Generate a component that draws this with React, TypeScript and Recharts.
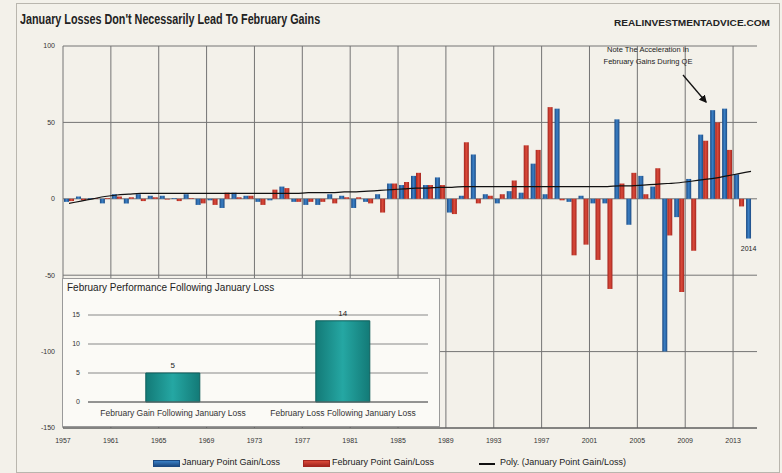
import {
  ComposedChart,
  BarChart,
  Bar,
  Line,
  XAxis,
  YAxis,
  CartesianGrid,
  ReferenceLine,
  LabelList,
} from 'recharts';

// S&P point change in January / February, one entry per year
const years = [
  1957, 1958, 1959, 1960, 1961, 1962, 1963, 1964, 1965, 1966,
  1967, 1968, 1969, 1970, 1971, 1972, 1973, 1974, 1975, 1976,
  1977, 1978, 1979, 1980, 1981, 1982, 1983, 1984, 1985, 1986,
  1987, 1988, 1989, 1990, 1991, 1992, 1993, 1994, 1995, 1996,
  1997, 1998, 1999, 2000, 2001, 2002, 2003, 2004, 2005, 2006,
  2007, 2008, 2009, 2010, 2011, 2012, 2013, 2014,
];

const janPoints = [
  -2, 1.5, 0.5, -3, 3, -3, 3, 2, 2, 0.5,
  3, -4, -1, -6, 4, 2, -2, -1, 8, -2,
  -4, -4, 3, 2, -6, -2, 3, 10, 9, 15,
  9, 14, -9, 2, 29, 3, -3, 5, 4, 23,
  3, 59, -2, 2, -3, -3, 52, -17, 15, 8,
  -100, -12, 13, 42, 58, 59, 16, -26,
];

const febPoints = [
  -1.5, -1, 0.5, 0.5, 1.5, 1, -1.5, 1, -0.5, -1.5,
  0.5, -3, -4, 4, 1, 2, -4, 6, 7, -2,
  -2, -2, -3, 1, 1, -3, -9, 10, 11, 17,
  9, 9, -10, 37, -3, 2, 3, 12, 35, 32,
  60, -1, -37, -30, -40, -59, 10, 17, 3, 20,
  -24, -61, -34, 38, 50, 32, -5, null,
];

// polynomial trend of the January series
const janPoly = [
  -3, -1.5, 0, 1.5, 2.5, 3, 3.5, 3.5, 3.5, 3.5,
  3.5, 3.5, 3.5, 3.5, 3.5, 3.5, 3.5, 3.5, 3.5, 3.5,
  4, 4, 4, 4.5, 4.5, 5, 5.5, 6, 6.5, 7,
  7, 7.5, 7.5, 8, 8, 8, 8, 8, 8, 8,
  8, 8, 8, 8, 8, 8, 8.5, 8.5, 9, 9.5,
  10, 10.5, 11.5, 12.5, 13.5, 15, 16.5, 18,
];

const gridYears = [1957, 1961, 1965, 1969, 1973, 1977, 1981, 1985, 1989, 1993, 1997, 2001, 2005, 2009, 2013];
const yTicks = [-150, -100, -50, 0, 50, 100];

const insetCategories = ['February Gain Following January Loss', 'February Loss Following January Loss'];
const insetCounts = [5, 14];
const insetTicks = [0, 5, 10, 15];

const BG = '#f3f1ea';
const GRID = '#747474';
const FONT = "'Liberation Sans', Arial, sans-serif";

const XTick = (props: any) => {
  const { x, y, payload } = props;
  return (
    <text x={x - 6} y={y + 7} textAnchor="middle" fontSize={7} fill="#333" fontFamily={FONT}>
      {payload.value}
    </text>
  );
};

const lastYearLabel = (props: any) => {
  const { x, y, width, height, index } = props;
  if (index !== years.length - 1) return null;
  const bottom = Math.max(y, y + height);
  return (
    <text x={x + width / 2} y={bottom + 12} textAnchor="middle" fontSize={7} fill="#222" fontFamily={FONT}>
      {years[index]}
    </text>
  );
};

export default function App() {
  const mainData = years.map((year, i) => ({
    year,
    jan: janPoints[i],
    feb: febPoints[i],
    poly: janPoly[i],
  }));
  const insetData = insetCategories.map((name, i) => ({ name, count: insetCounts[i] }));

  return (
    <div
      style={{
        position: 'absolute',
        left: 0,
        top: 0,
        width: 782,
        height: 473,
        background: BG,
        fontFamily: FONT,
        overflow: 'hidden',
      }}
    >
      {/* outer frame */}
      <div
        style={{
          position: 'absolute',
          left: 16,
          top: 3,
          width: 762,
          height: 468,
          border: '1px solid #b9b6ae',
        }}
      />

      <div
        style={{
          position: 'absolute',
          left: 20,
          top: 11,
          fontWeight: 'bold',
          fontSize: 14,
          color: '#222',
          whiteSpace: 'nowrap',
          transform: 'scaleX(0.77)',
          transformOrigin: 'left top',
        }}
      >
        January Losses Don't Necessarily Lead To February Gains
      </div>
      <div
        style={{
          position: 'absolute',
          left: 614,
          top: 17,
          fontWeight: 'bold',
          fontSize: 9.5,
          color: '#222',
          whiteSpace: 'nowrap',
          transform: 'scaleX(1.06)',
          transformOrigin: 'left top',
        }}
      >
        REALINVESTMENTADVICE.COM
      </div>

      <ComposedChart
        width={782}
        height={473}
        data={mainData}
        margin={{ top: 46, right: 25, bottom: 25, left: 23 }}
        barGap={0}
        style={{ position: 'absolute', left: 0, top: 0 }}
      >
        <defs>
          <linearGradient id="janFill" x1="0" y1="0" x2="1" y2="0">
            <stop offset="0%" stopColor="#1c4a82" />
            <stop offset="50%" stopColor="#3a80c6" />
            <stop offset="100%" stopColor="#1c4a82" />
          </linearGradient>
          <linearGradient id="febFill" x1="0" y1="0" x2="1" y2="0">
            <stop offset="0%" stopColor="#a3261f" />
            <stop offset="50%" stopColor="#dc4a3a" />
            <stop offset="100%" stopColor="#a3261f" />
          </linearGradient>
        </defs>
        <CartesianGrid vertical={false} stroke={GRID} />
        {gridYears.map((y) => (
          <ReferenceLine key={y} x={y} position="start" stroke={GRID} />
        ))}
        <XAxis
          dataKey="year"
          interval={3}
          tickLine={false}
          axisLine={{ stroke: '#555' }}
          height={20}
          tick={<XTick />}
        />
        <YAxis
          width={40}
          domain={[-150, 100]}
          ticks={yTicks}
          tickLine={false}
          axisLine={false}
          tick={{ fontSize: 7, fill: '#333', fontFamily: FONT }}
        />
        <Bar dataKey="jan" fill="url(#janFill)" barSize={5} isAnimationActive={false}>
          <LabelList dataKey="jan" content={lastYearLabel} />
        </Bar>
        <Bar dataKey="feb" fill="url(#febFill)" barSize={5} isAnimationActive={false} />
        <Line
          dataKey="poly"
          type="monotone"
          stroke="#111"
          strokeWidth={1.2}
          dot={false}
          isAnimationActive={false}
        />
      </ComposedChart>

      {/* annotation */}
      <div
        style={{
          position: 'absolute',
          left: 578,
          top: 44,
          width: 140,
          textAlign: 'center',
          fontSize: 7.5,
          lineHeight: '12px',
          color: '#222',
        }}
      >
        Note The Acceleration In
        <br />
        February Gains During QE
      </div>
      <svg
        width={782}
        height={473}
        style={{ position: 'absolute', left: 0, top: 0, pointerEvents: 'none' }}
      >
        <defs>
          <marker id="arrowHead" markerWidth="6" markerHeight="6" refX="5" refY="3" orient="auto">
            <path d="M0,0 L6,3 L0,6 Z" fill="#111" />
          </marker>
        </defs>
        <line x1={683} y1={75} x2={706} y2={102} stroke="#111" strokeWidth={1.3} markerEnd="url(#arrowHead)" />
      </svg>

      {/* inset chart */}
      <div
        style={{
          position: 'absolute',
          left: 62,
          top: 278,
          width: 376,
          height: 147,
          border: '1px solid #9a9a9a',
          background: '#fbfaf6',
        }}
      >
        <div style={{ position: 'absolute', left: 4, top: 3, fontSize: 10, color: '#222', whiteSpace: 'nowrap' }}>
          February Performance Following January Loss
        </div>
        <BarChart
          width={376}
          height={147}
          data={insetData}
          margin={{ top: 36, right: 11, bottom: 6, left: 5 }}
          barCategoryGap="34%"
          style={{ position: 'absolute', left: 0, top: 0 }}
        >
          <defs>
            <linearGradient id="tealFill" x1="0" y1="0" x2="1" y2="0">
              <stop offset="0%" stopColor="#137a77" />
              <stop offset="50%" stopColor="#25a7a3" />
              <stop offset="100%" stopColor="#137a77" />
            </linearGradient>
          </defs>
          <CartesianGrid vertical={false} stroke="#888" />
          <XAxis
            dataKey="name"
            tickLine={false}
            axisLine={{ stroke: '#666' }}
            height={18}
            tick={{ fontSize: 8.5, fill: '#333', fontFamily: FONT }}
          />
          <YAxis
            width={20}
            domain={[0, 15]}
            ticks={insetTicks}
            tickLine={false}
            axisLine={false}
            tick={{ fontSize: 7, fill: '#333', fontFamily: FONT }}
          />
          <Bar dataKey="count" fill="url(#tealFill)" stroke="#0e5f5c" isAnimationActive={false}>
            <LabelList dataKey="count" position="top" offset={5} fontSize={8} fill="#222" />
          </Bar>
        </BarChart>
      </div>

      {/* legend */}
      <div style={{ position: 'absolute', left: 0, top: 457, width: 782, height: 12, fontSize: 9, color: '#222' }}>
        <div
          style={{
            position: 'absolute',
            left: 153,
            top: 3,
            width: 25,
            height: 5,
            border: '1px solid #1c4a82',
            background: 'linear-gradient(#3a80c6, #1c4a82)',
          }}
        />
        <div style={{ position: 'absolute', left: 182, top: 0, whiteSpace: 'nowrap' }}>January Point Gain/Loss</div>
        <div
          style={{
            position: 'absolute',
            left: 303,
            top: 3,
            width: 25,
            height: 5,
            border: '1px solid #a3261f',
            background: 'linear-gradient(#dc4a3a, #a3261f)',
          }}
        />
        <div style={{ position: 'absolute', left: 332, top: 0, whiteSpace: 'nowrap' }}>February Point Gain/Loss</div>
        <div style={{ position: 'absolute', left: 479, top: 6, width: 16, height: 1.5, background: '#111' }} />
        <div style={{ position: 'absolute', left: 500, top: 0, whiteSpace: 'nowrap' }}>
          Poly. (January Point Gain/Loss)
        </div>
      </div>
    </div>
  );
}
